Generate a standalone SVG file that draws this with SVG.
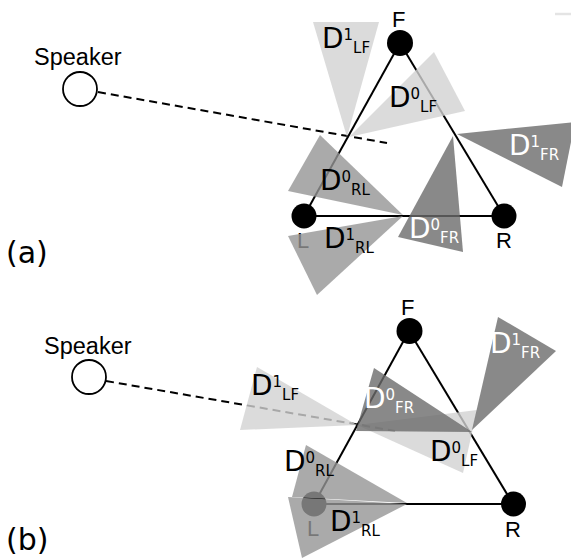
<svg xmlns="http://www.w3.org/2000/svg" width="571" height="559" viewBox="0 0 571 559">
<style>
.edge{stroke:#000;stroke-width:2;fill:none}
.dash{stroke:#000;stroke-width:2;fill:none;stroke-dasharray:8 5}
.mic{fill:#000}
.spk{fill:#fff;stroke:#000;stroke-width:1.8}
.lbl{font-family:"Liberation Sans",Arial,sans-serif;font-size:22px;fill:#000}
.spt{font-size:23.5px}
.cap{font-family:"DejaVu Sans",sans-serif;font-size:30px;fill:#000}
.light{fill:#d2d2d2;fill-opacity:0.8}
.med{fill:#959595;fill-opacity:0.8}
.dark{fill:#6b6b6b;fill-opacity:0.8}
.dl{font-family:"DejaVu Sans",sans-serif;font-size:28px;fill:#000}
.dl.w{fill:#fff}
.s{font-size:15px}
</style>

<!-- Panel labels -->
<text class="cap" x="6" y="263">(a)</text>
<text class="cap" x="6" y="550">(b)</text>

<!-- Connectors -->
<g id="connectors">
  <line class="edge" x1="400" y1="43" x2="304" y2="216"/>
  <line class="edge" x1="400" y1="43" x2="504" y2="216"/>
  <line class="edge" x1="304" y1="216" x2="504" y2="216"/>
  <line class="dash" x1="98" y1="92" x2="387" y2="143"/>
  <line class="edge" x1="409" y1="331" x2="314" y2="504"/>
  <line class="edge" x1="409" y1="331" x2="513" y2="504"/>
  <line class="edge" x1="314" y1="504" x2="513" y2="504"/>
  <line class="dash" x1="106" y1="381" x2="395" y2="431"/>
</g>

<!-- Panel (a) nodes -->
<g id="speaker-a">
  <circle class="spk" cx="80" cy="89" r="17"/>
  <text class="lbl spt" x="34" y="65">Speaker</text>
</g>
<g id="F-a">
  <circle class="mic" cx="400" cy="43" r="13"/>
  <text class="lbl" x="392" y="27">F</text>
</g>
<g id="L-a">
  <circle class="mic" cx="304" cy="216" r="12.5"/>
  <text class="lbl" x="297" y="248">L</text>
</g>
<g id="R-a">
  <circle class="mic" cx="504" cy="216" r="12.5"/>
  <text class="lbl" x="496" y="248">R</text>
</g>

<!-- Panel (b) nodes -->
<g id="speaker-b">
  <circle class="spk" cx="89" cy="377" r="17"/>
  <text class="lbl spt" x="44" y="354">Speaker</text>
</g>
<g id="F-b">
  <circle class="mic" cx="409.5" cy="331" r="13"/>
  <text class="lbl" x="401" y="315">F</text>
</g>
<g id="L-b">
  <circle class="mic" cx="314" cy="504" r="12.5"/>
  <text class="lbl" x="307" y="536">L</text>
</g>
<g id="R-b">
  <circle class="mic" cx="513.5" cy="504" r="12.5"/>
  <text class="lbl" x="505" y="537">R</text>
</g>

<line x1="555" y1="14" x2="571" y2="14" stroke="#e4e4e4" stroke-width="2.5"/>

<!-- Panel (a) wedges -->
<g id="D1LF-a">
  <polygon class="light" points="313,22 379,22 347,137"/>
  <text class="dl" x="322" y="48">D<tspan class="s" dy="-8">1</tspan><tspan class="s" dy="13">LF</tspan></text>
</g>
<g id="D0LF-a">
  <polygon class="light" points="349,137 434,52 465,111"/>
  <text class="dl" x="389" y="107">D<tspan class="s" dy="-8">0</tspan><tspan class="s" dy="13">LF</tspan></text>
</g>
<g id="D0RL-a">
  <polygon class="med" points="320,135 288,191 403,215"/>
  <text class="dl" x="320" y="190">D<tspan class="s" dy="-8">0</tspan><tspan class="s" dy="13">RL</tspan></text>
</g>
<g id="D1RL-a">
  <polygon class="med" points="288,236 317,295 403,216"/>
  <text class="dl" x="324" y="248">D<tspan class="s" dy="-8">1</tspan><tspan class="s" dy="13">RL</tspan></text>
</g>
<g id="D1FR-a">
  <polygon class="dark" points="457,134 575,122 562,187"/>
  <text class="dl w" x="509" y="155">D<tspan class="s" dy="-8">1</tspan><tspan class="s" dy="13">FR</tspan></text>
</g>
<g id="D0FR-a">
  <polygon class="dark" points="453,136 398,237 463,252"/>
  <text class="dl w" x="409" y="238">D<tspan class="s" dy="-8">0</tspan><tspan class="s" dy="13">FR</tspan></text>
</g>

<!-- Panel (b) wedges -->
<g id="D1LF-b">
  <polygon class="light" points="257,367 240,430 357,425"/>
  <text class="dl" x="251" y="395">D<tspan class="s" dy="-8">1</tspan><tspan class="s" dy="13">LF</tspan></text>
</g>
<g id="D0LF-b">
  <polygon class="light" points="357,425 477,410 463,473"/>
  <text class="dl" x="430" y="461">D<tspan class="s" dy="-8">0</tspan><tspan class="s" dy="13">LF</tspan></text>
</g>
<g id="D0RL-b">
  <polygon class="med" points="306,445 407,503 292,497"/>
  <text class="dl" x="284" y="471">D<tspan class="s" dy="-8">0</tspan><tspan class="s" dy="13">RL</tspan></text>
</g>
<g id="D1RL-b">
  <polygon class="med" points="288,497 302,558 407,504"/>
  <text class="dl" x="330" y="531">D<tspan class="s" dy="-8">1</tspan><tspan class="s" dy="13">RL</tspan></text>
</g>
<g id="D0FR-b">
  <polygon class="dark" points="374,368 356,431 472,432"/>
  <text class="dl w" x="364" y="408">D<tspan class="s" dy="-8">0</tspan><tspan class="s" dy="13">FR</tspan></text>
</g>
<g id="D1FR-b">
  <polygon class="dark" points="498,317 556,351 472,430"/>
  <text class="dl w" x="490" y="353">D<tspan class="s" dy="-8">1</tspan><tspan class="s" dy="13">FR</tspan></text>
</g>
</svg>
